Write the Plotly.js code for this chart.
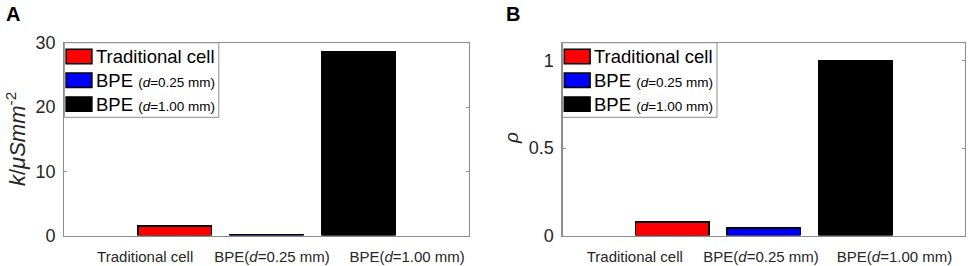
<!DOCTYPE html>
<html>
<head>
<meta charset="utf-8">
<script src="https://cdn.plot.ly/plotly-3.0.1.min.js"></script>
<style>html,body{margin:0;padding:0;background:#fff;}#chart{width:969px;height:266px;}</style>
</head>
<body>
<div id="chart"></div>
<script>
// ---- data ----
const categories = ['Traditional cell', 'BPE (d=0.25 mm)', 'BPE (d=1.00 mm)'];
const kValues = [1.5, 0.15, 28.6];          // panel A: k / μS mm^-2
const rhoValues = [0.076, 0.044, 1.0];      // panel B: ρ
const tickLabels = ['Traditional cell', 'BPE(<i>d</i>=0.25 mm)', 'BPE(<i>d</i>=1.00 mm)'];
const legendLabels = [
  'Traditional cell',
  'BPE <span style="font-size:13.5px">(<i>d</i>=0.25 mm)</span>',
  'BPE <span style="font-size:13.5px">(<i>d</i>=1.00 mm)</span>'
];
const yTicksA = [0, 10, 20, 30];
const yTicksB = [0, 0.5, 1];
const yTickTextB = ['0', '0.5', '1'];

// ---- styling / geometry ----
const barColors = ['#ff0000', '#0000ff', '#000000'];
const W = 969, H = 266;
const TOP = 43, BOT = 235.5;
const panels = [
  {x0: 64.3, x1: 468.7, xa: 'x', ya: 'y', vals: kValues, tickpos: [0.68, 2.06, 3.53]},
  {x0: 562.5, x1: 965, xa: 'x2', ya: 'y2', vals: rhoValues, tickpos: [0.59, 1.97, 3.43]}
];
const px = v => v / W;
const py = v => 1 - v / H;
const FONT = 'Arial, "Liberation Sans", sans-serif';
const AXCOL = '#8c8c8c';
const TXTCOL = '#262626';

const traces = [];
panels.forEach((p, pi) => {
  categories.forEach((c, i) => {
    traces.push({
      type: 'bar',
      x: [i + 1],
      y: [p.vals[i]],
      name: c,
      xaxis: p.xa,
      yaxis: p.ya,
      showlegend: false,
      marker: {color: barColors[i], line: {color: '#000', width: 1.5}},
      hoverinfo: 'skip'
    });
  });
});

function xaxisDef(p) {
  return {
    domain: [px(p.x0), px(p.x1)],
    anchor: p.ya,
    range: [-0.2, 4.2],
    tickmode: 'array',
    tickvals: p.tickpos,
    ticktext: tickLabels,
    ticks: '',
    showline: true, mirror: 'ticks', linecolor: AXCOL, linewidth: 1.2,
    showgrid: false, zeroline: false,
    tickfont: {family: FONT, size: 15, color: TXTCOL},
    ticklabelstandoff: 7,
    fixedrange: true
  };
}
function yaxisDef(p, range, tv, tt) {
  return {
    domain: [py(BOT), py(TOP)],
    anchor: p.xa,
    range: range,
    tickmode: 'array', tickvals: tv, ticktext: tt,
    ticks: 'inside', ticklen: 3, tickcolor: AXCOL, tickwidth: 1,
    showline: true, mirror: 'ticks', linecolor: AXCOL, linewidth: 1.2,
    showgrid: false, zeroline: false,
    tickfont: {family: FONT, size: 18, color: TXTCOL},
    ticklabelstandoff: 4,
    fixedrange: true
  };
}

const shapes = [];
const annotations = [];
panels.forEach((p) => {
  const L = p.x0, T = 42.7, LW = 154.5, LH = 74.6;
  shapes.push({type: 'rect', xref: 'paper', yref: 'paper', layer: 'above',
    x0: px(L), x1: px(L + LW), y0: py(T + LH), y1: py(T),
    fillcolor: '#ffffff', line: {color: AXCOL, width: 1}});
  categories.forEach((c, i) => {
    const cy = T + 13.8 + 23.8 * i;
    shapes.push({type: 'rect', xref: 'paper', yref: 'paper', layer: 'above',
      x0: px(L + 1.8), x1: px(L + 27.6), y0: py(cy + 7.2), y1: py(cy - 7.2),
      fillcolor: barColors[i], line: {color: '#000', width: 1.5}});
    annotations.push({xref: 'paper', yref: 'paper', x: px(L + 29.5), y: py(cy),
      xanchor: 'left', yanchor: 'middle', showarrow: false, text: legendLabels[i],
      font: {family: FONT, size: 18.5, color: '#000'}});
  });
});

// panel letters
annotations.push({xref: 'paper', yref: 'paper', x: px(4), y: py(1), xanchor: 'left', yanchor: 'top',
  showarrow: false, text: '<b>A</b>', font: {family: FONT, size: 20, color: '#000'}});
annotations.push({xref: 'paper', yref: 'paper', x: px(504), y: py(1), xanchor: 'left', yanchor: 'top',
  showarrow: false, text: '<b>B</b>', font: {family: FONT, size: 20, color: '#000'}});
// y titles
annotations.push({xref: 'paper', yref: 'paper', x: px(16), y: py(139), xanchor: 'center', yanchor: 'middle',
  textangle: -90, showarrow: false,
  text: '<i>k</i>/<i>μSmm</i><sup>-2</sup>', font: {family: FONT, size: 22, color: TXTCOL}});
annotations.push({xref: 'paper', yref: 'paper', x: px(511), y: py(138), xanchor: 'center', yanchor: 'middle',
  textangle: -90, showarrow: false,
  text: '<i>ρ</i>', font: {family: FONT, size: 19, color: TXTCOL}});

const layout = {
  width: W, height: H,
  margin: {l: 0, r: 0, t: 0, b: 0},
  paper_bgcolor: '#fff', plot_bgcolor: '#fff',
  barmode: 'stack', bargap: 0.2,
  showlegend: false,
  xaxis: xaxisDef(panels[0]),
  yaxis: yaxisDef(panels[0], [0, 30], yTicksA, yTicksA.map(String)),
  xaxis2: xaxisDef(panels[1]),
  yaxis2: yaxisDef(panels[1], [0, 1.1], yTicksB, yTickTextB),
  shapes: shapes,
  annotations: annotations,
  font: {family: FONT}
};

Plotly.newPlot('chart', traces, layout, {staticPlot: true, displayModeBar: false});
</script>
</body>
</html>
